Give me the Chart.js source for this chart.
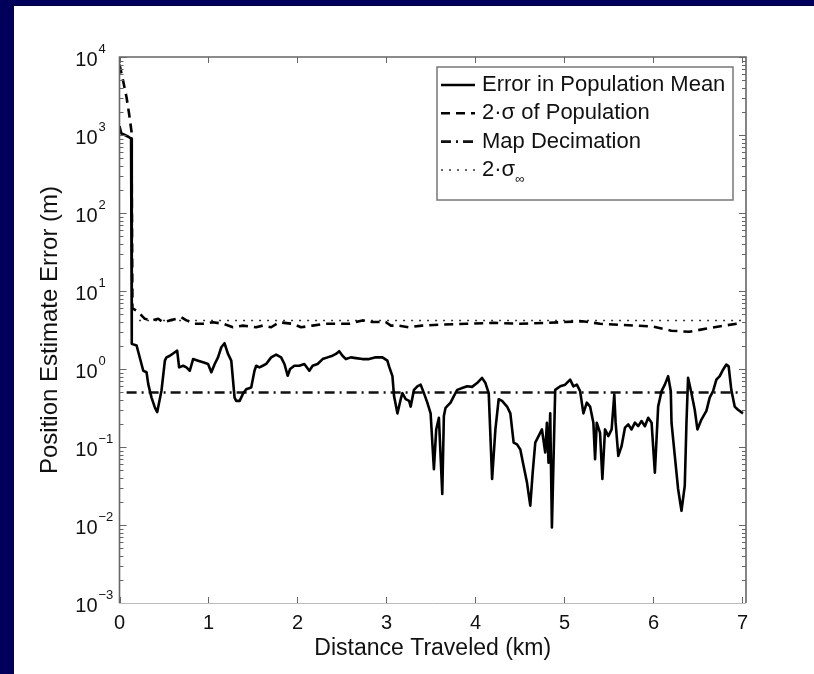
<!DOCTYPE html>
<html>
<head>
<meta charset="utf-8">
<script src="https://cdn.jsdelivr.net/npm/chart.js@4.4.1/dist/chart.umd.min.js"></script>
<style>
html, body { margin: 0; padding: 0; background: #00005a; }
#wrap { position: absolute; left: 0; top: 0; width: 814px; height: 674px; }
</style>
</head>
<body>
<div id="wrap"><canvas id="chart" width="814" height="674"></canvas></div>
<script>
// error in population mean (m) vs distance (km)
var meanKm = [0, 0.02, 0.06, 0.1, 0.13, 0.136, 0.14, 0.192, 0.267, 0.304, 0.323, 0.36, 0.398, 0.424, 0.472, 0.51, 0.528, 0.566, 0.622, 0.648, 0.67, 0.715, 0.752, 0.79, 0.827, 0.883, 0.939, 0.995, 1.032, 1.07, 1.107, 1.144, 1.18, 1.219, 1.256, 1.293, 1.312, 1.35, 1.387, 1.424, 1.48, 1.517, 1.536, 1.573, 1.61, 1.648, 1.704, 1.76, 1.816, 1.853, 1.89, 1.917, 1.965, 2.02, 2.077, 2.133, 2.17, 2.226, 2.282, 2.338, 2.394, 2.432, 2.469, 2.506, 2.544, 2.6, 2.656, 2.73, 2.805, 2.88, 2.955, 3.01,
  3.029, 3.067, 3.085, 3.123, 3.16, 3.179, 3.216, 3.254, 3.272, 3.309, 3.347, 3.384, 3.421, 3.459, 3.496, 3.533, 3.559, 3.589, 3.627, 3.645, 3.664, 3.72, 3.757, 3.795, 3.851, 3.907, 3.962, 4.018, 4.074, 4.112, 4.149, 4.187, 4.224, 4.261, 4.299, 4.355, 4.392, 4.429, 4.467, 4.504, 4.541, 4.579, 4.616, 4.643, 4.672, 4.709, 4.747, 4.784, 4.803, 4.821, 4.84, 4.859, 4.896, 4.953, 5.008, 5.064, 5.101, 5.139, 5.176, 5.213, 5.251, 5.288, 5.325, 5.344, 5.363, 5.4, 5.426, 5.456, 5.493, 5.53, 5.56, 5.575, 5.605, 5.642, 5.68, 5.717, 5.754, 5.792, 5.829, 5.866, 5.904, 5.941, 5.979, 6.016, 6.053, 6.091, 6.128, 6.165, 6.195, 6.203, 6.24, 6.277, 6.315, 6.352, 6.371, 6.389, 6.427, 6.464, 6.494, 6.539, 6.595, 6.632, 6.67, 6.707, 6.745, 6.782, 6.819, 6.845, 6.875, 6.913, 6.95, 7.006];
var meanErr = [1300, 1050, 1000, 950, 900, 700, 2.1, 2.0, 0.95, 0.91, 0.64, 0.43, 0.32, 0.28, 0.53, 1.28, 1.41, 1.48, 1.64, 1.72, 1.05, 1.10, 1.05, 0.95, 1.34, 1.28, 1.22, 1.16, 0.91, 1.16, 1.41, 1.90, 2.14, 1.56, 1.28, 0.43, 0.39, 0.39, 0.48, 0.55, 0.58, 0.95, 1.10, 1.05, 1.10, 1.16, 1.41, 1.53, 1.41, 1.16, 0.82, 1.0, 1.10, 1.10, 1.16, 0.95, 1.10, 1.16, 1.34, 1.41, 1.48, 1.56, 1.69, 1.48, 1.34, 1.41, 1.38, 1.34, 1.34, 1.41, 1.41, 1.28,
  1.08, 0.81, 0.45, 0.27, 0.41, 0.49, 0.41, 0.39, 0.33, 0.54, 0.60, 0.63, 0.49, 0.37, 0.27, 0.052, 0.168, 0.237, 0.025, 0.249, 0.318, 0.37, 0.45, 0.54, 0.57, 0.60, 0.59, 0.66, 0.77, 0.66, 0.49, 0.039, 0.168, 0.41, 0.39, 0.33, 0.27, 0.114, 0.108, 0.093, 0.057, 0.035, 0.0177, 0.047, 0.114, 0.138, 0.168, 0.085, 0.205, 0.063, 0.27, 0.0093, 0.54, 0.60, 0.63, 0.73, 0.60, 0.63, 0.52, 0.27, 0.37, 0.33, 0.205, 0.070, 0.205, 0.152, 0.039, 0.168, 0.138, 0.168, 0.47, 0.205, 0.077, 0.103, 0.177, 0.195, 0.168, 0.205, 0.185, 0.215, 0.185, 0.237, 0.205, 0.047, 0.33, 0.52, 0.63, 0.81, 0.52, 0.205, 0.077, 0.029, 0.0152, 0.032, 0.205, 0.77, 0.49, 0.30, 0.168, 0.225, 0.29, 0.43, 0.52, 0.73, 0.81, 0.98, 1.14, 1.08, 0.54, 0.33, 0.30, 0.27];

// 2-sigma of population
var sigmaKm = [0, 0.04, 0.08, 0.11, 0.135, 0.145, 0.19, 0.23, 0.285, 0.36, 0.435, 0.49, 0.565, 0.64, 0.696, 0.752, 0.846, 0.939, 1.05, 1.163, 1.275, 1.387, 1.536, 1.61, 1.704, 1.797, 1.946, 2.04, 2.17, 2.32, 2.47, 2.58, 2.73, 2.84, 2.99, 3.05, 3.14, 3.25, 3.4, 3.6, 3.9, 4.2, 4.5, 4.8, 5.0, 5.2, 5.4, 5.6, 5.8, 6.0, 6.2, 6.4, 6.6, 6.8, 7.0];
var sigmaErr = [8000, 5000, 3000, 1800, 1100, 6.0, 5.6, 5.1, 4.4, 4.2, 4.4, 3.97, 4.2, 4.4, 4.6, 4.2, 3.8, 3.8, 3.97, 3.8, 3.43, 3.6, 3.43, 3.6, 3.43, 3.97, 3.8, 3.43, 3.6, 3.8, 3.8, 3.8, 4.2, 4.0, 4.0, 3.6, 3.6, 3.43, 3.6, 3.7, 3.8, 3.9, 3.8, 3.9, 4.0, 4.1, 3.8, 3.7, 3.6, 3.5, 3.1, 3.0, 3.3, 3.6, 3.9];

// map decimation threshold and 2-sigma infinity
var decimKm = [0.08, 7.0];
var decimErr = [0.5, 0.5];
var sigmaInfKm = [0.13, 7.0];
var sigmaInfErr = [4.2, 4.2];

var xTickValues = [0, 1, 2, 3, 4, 5, 6, 7];
var yTickExponents = [-3, -2, -1, 0, 1, 2, 3, 4];

var FONT = '"Liberation Sans", Arial, Helvetica, sans-serif';

function pairs(xs, ys) {
  return xs.map(function (x, i) { return { x: x, y: ys[i] }; });
}

var backdrop = {
  id: 'backdrop',
  beforeDraw: function (chart) {
    var ctx = chart.ctx;
    ctx.save();
    ctx.fillStyle = '#00005a';
    ctx.fillRect(0, 0, chart.width, chart.height);
    ctx.fillStyle = '#ffffff';
    ctx.fillRect(14, 6, chart.width - 14, chart.height - 6);
    ctx.restore();
  }
};

// matlab style box: inward ticks, superscript labels, legend
var frame = {
  id: 'frame',
  afterDraw: function (chart) {
    var ctx = chart.ctx, a = chart.chartArea;
    var xs = chart.scales.x, ys = chart.scales.y;
    ctx.save();

    ctx.strokeStyle = '#666';
    ctx.lineWidth = 1;
    ctx.beginPath();
    xTickValues.forEach(function (v) {
      var px = Math.round(xs.getPixelForValue(v)) + 0.5;
      ctx.moveTo(px, a.bottom); ctx.lineTo(px, a.bottom - 6);
      ctx.moveTo(px, a.top); ctx.lineTo(px, a.top + 6);
    });
    yTickExponents.forEach(function (e) {
      for (var m = 1; m < 10; m++) {
        var v = m * Math.pow(10, e);
        if (v > ys.max * 1.0001) break;
        var py = Math.round(ys.getPixelForValue(v)) + 0.5;
        var len = m === 1 ? 7 : 4;
        ctx.moveTo(a.left, py); ctx.lineTo(a.left + len, py);
        ctx.moveTo(a.right, py); ctx.lineTo(a.right - len, py);
      }
    });
    ctx.stroke();

    ctx.lineWidth = 1.6;
    ctx.strokeStyle = '#666';
    ctx.beginPath();
    ctx.moveTo(a.left, a.bottom); ctx.lineTo(a.left, a.top); ctx.lineTo(a.right, a.top); ctx.lineTo(a.right, a.bottom);
    ctx.stroke();
    ctx.lineWidth = 1;
    ctx.strokeStyle = '#bbb';
    ctx.beginPath();
    ctx.moveTo(a.left, a.bottom + 0.5); ctx.lineTo(a.right, a.bottom + 0.5);
    ctx.stroke();

    ctx.fillStyle = '#111';
    ctx.textBaseline = 'middle';
    yTickExponents.forEach(function (e) {
      var py = ys.getPixelForValue(Math.pow(10, e));
      ctx.font = '20px ' + FONT;
      ctx.textAlign = 'right';
      ctx.fillText('10', a.left - 22, py + 3);
      ctx.font = '13px ' + FONT;
      ctx.textAlign = 'left';
      ctx.fillText(e < 0 ? '\u2212' + (-e) : String(e), a.left - 21, py - 8);
    });

    // legend
    var bw = 296, bh = 133;
    var bx = a.right - 13 - bw, by = a.top + 10;
    ctx.fillStyle = '#fff';
    ctx.fillRect(bx, by, bw, bh);
    ctx.strokeStyle = '#777';
    ctx.lineWidth = 1.5;
    ctx.strokeRect(bx, by, bw, bh);
    chart.data.datasets.forEach(function (ds, i) {
      var cy = by + 18 + i * 28.3;
      ctx.setLineDash(ds.borderDash || []);
      ctx.strokeStyle = ds.borderColor;
      ctx.lineWidth = ds.borderWidth;
      ctx.beginPath();
      ctx.moveTo(bx + 4, cy); ctx.lineTo(bx + 38, cy);
      ctx.stroke();
      ctx.setLineDash([]);
      ctx.fillStyle = '#111';
      ctx.font = '22px ' + FONT;
      ctx.textAlign = 'left';
      ctx.textBaseline = 'middle';
      var label = ds.label;
      if (label.slice(-1) === '\u221e') {
        var base = label.slice(0, -1);
        ctx.fillText(base, bx + 45, cy);
        var w = ctx.measureText(base).width;
        ctx.font = '13px ' + FONT;
        ctx.fillText('\u221e', bx + 45 + w, cy + 10);
      } else {
        ctx.fillText(label, bx + 45, cy);
      }
    });
    ctx.restore();
  }
};

new Chart(document.getElementById('chart'), {
  type: 'line',
  data: {
    datasets: [
      { label: 'Error in Population Mean', data: pairs(meanKm, meanErr), borderColor: '#000', borderWidth: 2.6, borderDash: [] },
      { label: '2\u00b7\u03c3 of Population', data: pairs(sigmaKm, sigmaErr), borderColor: '#000', borderWidth: 2.6, borderDash: [9, 6] },
      { label: 'Map Decimation', data: pairs(decimKm, decimErr), borderColor: '#111', borderWidth: 2.6, borderDash: [10, 5, 2, 5] },
      { label: '2\u00b7\u03c3\u221e', data: pairs(sigmaInfKm, sigmaInfErr), borderColor: '#333', borderWidth: 1.5, borderDash: [2, 6] }
    ]
  },
  options: {
    responsive: false,
    animation: false,
    elements: {
      point: { radius: 0 },
      line: { tension: 0, fill: false, borderJoinStyle: 'round' }
    },
    layout: { padding: { left: 14, top: 57, right: 68, bottom: 0 } },
    plugins: {
      legend: { display: false },
      tooltip: { enabled: false }
    },
    scales: {
      x: {
        type: 'linear', min: 0, max: 7.04,
        afterBuildTicks: function (s) { s.ticks = xTickValues.map(function (v) { return { value: v }; }); },
        afterFit: function (s) { s.height = 71; },
        grid: { display: false, drawTicks: false },
        border: { display: false },
        ticks: { font: { family: FONT, size: 20 }, color: '#111', padding: 8, maxRotation: 0, autoSkip: false },
        title: { display: true, text: 'Distance Traveled (km)', font: { family: FONT, size: 23 }, color: '#111', padding: { top: 0, bottom: 12 } }
      },
      y: {
        type: 'logarithmic', min: 0.001, max: 10000,
        afterBuildTicks: function (s) { s.ticks = yTickExponents.map(function (e) { return { value: Math.pow(10, e) }; }); },
        afterFit: function (s) { s.width = 105.5; },
        grid: { display: false, drawTicks: false },
        border: { display: false },
        ticks: { display: false },
        title: { display: true, text: 'Position Estimate Error (m)', font: { family: FONT, size: 24 }, color: '#111', padding: { top: 22, bottom: 0 } }
      }
    }
  },
  plugins: [backdrop, frame]
});
</script>
</body>
</html>
